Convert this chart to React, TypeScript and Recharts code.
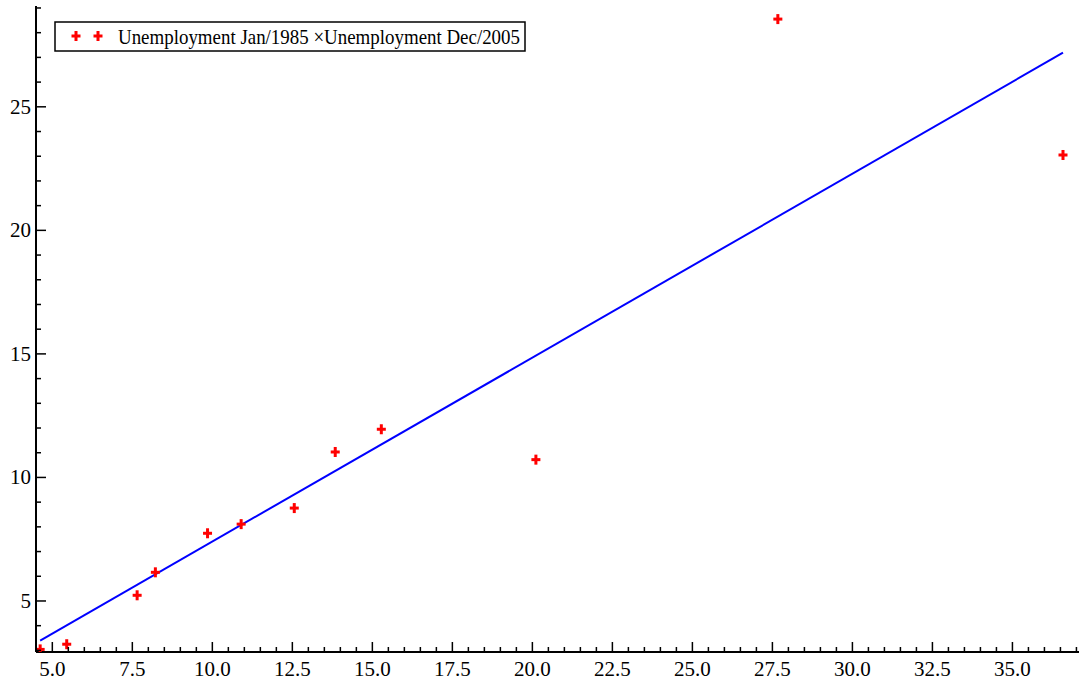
import React from 'react'
import { ScatterChart, Scatter, XAxis, YAxis } from 'recharts'

// readings: unemployment rate per region, Jan 1985 vs Dec 2005
const jan1985 = [4.62, 5.45, 7.65, 8.22, 9.85, 10.9, 12.56, 13.84, 15.28, 20.11, 27.67, 36.58]
const dec2005 = [3.04, 3.25, 5.23, 6.16, 7.74, 8.11, 8.76, 11.03, 11.95, 10.72, 28.55, 23.05]

// fitted line end points
const fitX = [4.62, 36.58]
const fitY = [3.4, 27.19]

const xMajor = [5, 7.5, 10, 12.5, 15, 17.5, 20, 22.5, 25, 27.5, 30, 32.5, 35]
const xTicks = [
  4.5, 5, 5.5, 6, 6.5, 7, 7.5, 8, 8.5, 9, 9.5, 10, 10.5, 11, 11.5, 12, 12.5, 13, 13.5, 14,
  14.5, 15, 15.5, 16, 16.5, 17, 17.5, 18, 18.5, 19, 19.5, 20, 20.5, 21, 21.5, 22, 22.5, 23,
  23.5, 24, 24.5, 25, 25.5, 26, 26.5, 27, 27.5, 28, 28.5, 29, 29.5, 30, 30.5, 31, 31.5, 32,
  32.5, 33, 33.5, 34, 34.5, 35, 35.5, 36, 36.5, 37,
]
const yMajor = [5, 10, 15, 20, 25]
const yTicks = [3, 4, 5, 6, 7, 8, 9, 10, 11, 12, 13, 14, 15, 16, 17, 18, 19, 20, 21, 22, 23, 24, 25, 26, 27, 28, 29]

const legendText = 'Unemployment Jan/1985 \u00d7Unemployment Dec/2005'

const points = jan1985.map((x, i) => ({ x, y: dec2005[i] }))
const fitData = fitX.map((x, i) => ({ x, y: fitY[i] }))

const FONT = "'Liberation Serif', 'Times New Roman', serif"

const PlusMark = ({ cx, cy }: { cx?: number; cy?: number }) => {
  if (cx == null || cy == null) return null
  return (
    <g>
      <rect x={cx - 4.5} y={cy - 1.5} width={9} height={3} fill="#ff0000" />
      <rect x={cx - 1.5} y={cy - 5} width={3} height={10} fill="#ff0000" />
    </g>
  )
}

const XTick = ({ x, y, payload }: any) => {
  const v = payload.value as number
  const major = xMajor.includes(v)
  return (
    <g>
      <line x1={x} x2={x} y1={y} y2={y - (major ? 10 : 5)} stroke="#000" strokeWidth={1.5} />
      {major && (
        <text x={x} y={y + 24} textAnchor="middle" fontSize={21} fontFamily={FONT} fill="#000">
          {v.toFixed(1)}
        </text>
      )}
    </g>
  )
}

const YTick = ({ x, y, payload }: any) => {
  const v = payload.value as number
  const major = yMajor.includes(v)
  return (
    <g>
      <line x1={x} x2={x + (major ? 10 : 5)} y1={y} y2={y} stroke="#000" strokeWidth={1.5} />
      {major && (
        <text x={x - 5} y={y + 7} textAnchor="end" fontSize={21} fontFamily={FONT} fill="#000">
          {v}
        </text>
      )}
    </g>
  )
}

const LegendBox = () => (
  <svg width={560} height={34} style={{ display: 'block', overflow: 'visible' }}>
    <rect x={1} y={1} width={470} height={29} fill="#fff" stroke="#000" strokeWidth={1.5} />
    <PlusMark cx={22} cy={15} />
    <PlusMark cx={44} cy={15} />
    <text
      x={64}
      y={23}
      fontSize={21}
      fontFamily={FONT}
      fill="#000"
      textLength={402}
      lengthAdjust="spacingAndGlyphs"
    >
      {legendText}
    </text>
  </svg>
)

export default function App() {
  return (
    <div style={{ position: 'absolute', left: 0, top: 0, width: 1079, height: 683, background: '#fff' }}>
      <ScatterChart width={1079} height={683} margin={{ top: 6, right: 0, bottom: 0, left: 0 }}>
        <XAxis
          type="number"
          dataKey="x"
          domain={[4.49, 37.08]}
          ticks={xTicks}
          interval={0}
          tickSize={0}
          tickMargin={0}
          tickLine={false}
          tick={<XTick />}
          axisLine={{ stroke: '#000', strokeWidth: 2 }}
          height={31}
          allowDataOverflow
        />
        <YAxis
          type="number"
          dataKey="y"
          domain={[2.935, 29.08]}
          ticks={yTicks}
          interval={0}
          tickSize={0}
          tickMargin={0}
          tickLine={false}
          tick={<YTick />}
          axisLine={{ stroke: '#000', strokeWidth: 2 }}
          width={36}
          allowDataOverflow
        />
        <Scatter
          data={fitData}
          line={{ stroke: '#0000ff', strokeWidth: 2 }}
          shape={() => null}
          isAnimationActive={false}
          legendType="none"
        />
        <Scatter data={points} shape={<PlusMark />} isAnimationActive={false} />
      </ScatterChart>
      <div style={{ position: 'absolute', left: 54, top: 21 }}>
        <LegendBox />
      </div>
    </div>
  )
}
